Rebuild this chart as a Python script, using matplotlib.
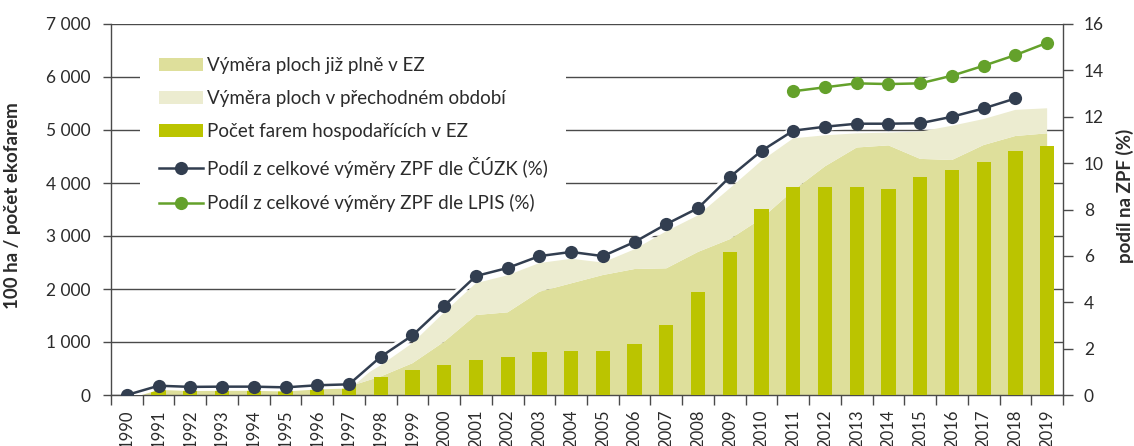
import numpy as np
import matplotlib
matplotlib.use('Agg')
import matplotlib.pyplot as plt

plt.rcParams['font.family'] = ['Lato', 'DejaVu Sans']

roky = list(range(1990, 2020))

# pocet ekofarem
farmy = [3, 132, 135, 141, 187, 181, 182, 211, 348, 473,
         563, 654, 721, 810, 836, 829, 963, 1318, 1946, 2689,
         3517, 3920, 3923, 3926, 3885, 4115, 4243, 4399, 4606, 4690]

# vymera ploch plne v EZ (100 ha)
plne = [5, 140, 130, 130, 130, 125, 140, 160, 350, 600,
        1006, 1509, 1560, 1949, 2107, 2264, 2377, 2390, 2700, 2940,
        3330, 3860, 4315, 4670, 4710, 4455, 4434, 4717, 4887, 4937]

# vymera ploch v prechodnem obdobi (100 ha)
prechodne = [0, 35, 24, 27, 28, 25, 30, 42, 210, 380,
             554, 601, 700, 541, 463, 236, 373, 700, 690, 960,
             1090, 983, 585, 267, 240, 515, 646, 490, 493, 473]

# podil na ZPF (%)
podil_cuzk = [0.0, 0.40, 0.35, 0.36, 0.36, 0.33, 0.42, 0.46, 1.65, 2.57,
              3.85, 5.13, 5.48, 5.99, 6.17, 5.99, 6.60, 7.37, 8.06, 9.40,
              10.53, 11.40, 11.57, 11.70, 11.70, 11.72, 12.00, 12.36, 12.79, None]
podil_lpis = [None] * 21 + [13.10, 13.27, 13.44, 13.41, 13.44, 13.77, 14.20, 14.66, 15.19]

c_plne = '#dedf9b'
c_prech = '#ececd0'
c_farmy = '#bbc400'
c_cuzk = '#323e50'
c_lpis = '#64a12b'
c_grid = '#4a4a4a'
c_text = '#2b2b2b'

x = np.arange(len(roky))
cuzk = np.array([np.nan if v is None else v for v in podil_cuzk])
lpis = np.array([np.nan if v is None else v for v in podil_lpis])

fig = plt.figure(figsize=(11.34, 4.46), dpi=100)
ax = fig.add_axes([111 / 1134, 1 - 395 / 446, 952 / 1134, 371 / 446])
ax2 = ax.twinx()

polys = ax.stackplot(x, plne, prechodne, colors=[c_plne, c_prech], linewidth=0)
bars = ax.bar(x, farmy, width=0.45, color=c_farmy, zorder=3)

ax.set_xlim(-0.5, len(roky) - 0.5)
ax.set_ylim(0, 7000)
ax.set_yticks(range(0, 7001, 1000))
ax.set_yticklabels([f'{v:,}'.replace(',', ' ') for v in range(0, 7001, 1000)])
ax.set_axisbelow(True)
ax.yaxis.grid(True, color=c_grid, linewidth=1.0)
ax.tick_params(axis='y', length=6, width=1, color=c_grid, pad=9,
               labelsize=12.5, labelcolor=c_text)

ax.set_xticks(np.arange(-0.5, len(roky), 1))
ax.set_xticklabels([])
ax.set_xticks(x, minor=True)
ax.set_xticklabels([str(r) for r in roky], minor=True, rotation=90)
ax.tick_params(axis='x', which='major', length=7, width=1, color=c_grid)
ax.tick_params(axis='x', which='minor', length=0, pad=10.5,
               labelsize=12, labelcolor=c_text)

for s in ['top', 'right']:
    ax.spines[s].set_visible(False)
for s in ['left', 'bottom']:
    ax.spines[s].set_color(c_grid)
    ax.spines[s].set_linewidth(1)

ax.set_ylabel('100 ha / počet ekofarem', fontsize=13.5, fontweight='bold',
              color=c_text)
ax.yaxis.set_label_coords(-0.095, 0.51)

# linie s bilym lemem
ax2.plot(x, cuzk, color='white', linewidth=6, solid_capstyle='round')
ax2.plot(x, lpis, color='white', linewidth=6, solid_capstyle='round')
l1, = ax2.plot(x, cuzk, color=c_cuzk, linewidth=1.8, marker='o',
               markersize=9.5, markeredgewidth=0)
l2, = ax2.plot(x, lpis, color=c_lpis, linewidth=1.8, marker='o',
               markersize=9.5, markeredgewidth=0)
ax2.set_ylim(0, 16)
ax2.set_yticks(range(0, 17, 2))
ax2.tick_params(axis='y', length=7, width=1, color=c_grid, pad=8,
                labelsize=12.5, labelcolor=c_text)
for s in ['top', 'left', 'bottom']:
    ax2.spines[s].set_visible(False)
ax2.spines['right'].set_color(c_grid)
ax2.spines['right'].set_linewidth(1)
ax2.set_ylabel('podíl na ZPF (%)', fontsize=13.5, fontweight='bold',
               color=c_text, rotation=90, va='center')
ax2.yaxis.set_label_coords(1.065, 0.536)

leg = ax2.legend([polys[0], polys[1], bars, l1, l2],
                 ['Výměra ploch již plně v EZ',
                  'Výměra ploch v přechodném období',
                  'Počet farem hospodařících v EZ',
                  'Podíl z celkové výměry ZPF dle ČÚZK (%)',
                  'Podíl z celkové výměry ZPF dle LPIS (%)'],
                 loc='upper left', bbox_to_anchor=(0.0305, 0.962),
                 borderaxespad=0, borderpad=1.0, fontsize=13.5,
                 handlelength=2.35, handletextpad=0.2, labelspacing=0.87,
                 frameon=True, facecolor='white', edgecolor='none',
                 framealpha=1, fancybox=False)
for t in leg.get_texts():
    t.set_color(c_text)

fig.savefig('out.png', dpi=100)
